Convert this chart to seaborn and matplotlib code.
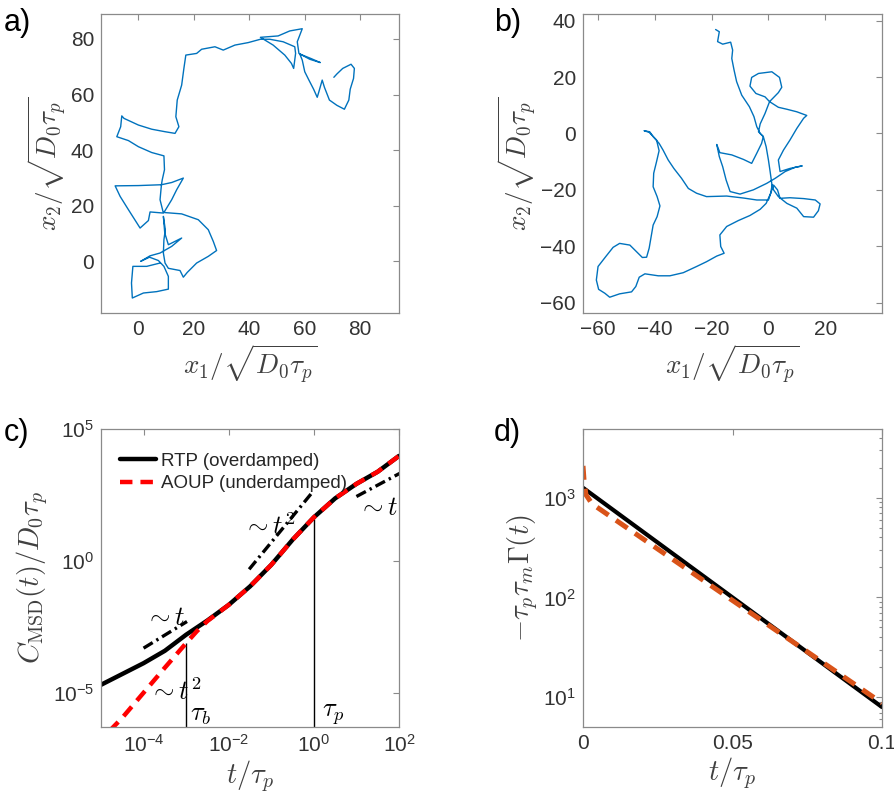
import matplotlib
matplotlib.use("Agg")
import matplotlib.pyplot as plt
import matplotlib.ticker as ticker
import numpy as np
import seaborn as sns

# ---------------- data ----------------
# a) trajectory waypoints
traj_a_x = [70.5, 71.6, 73.7, 76.7, 77.9, 77.6, 76.4, 75.9, 74.3, 71.6,
            68.9, 67.1, 66.3, 65.1, 64.5, 63.2, 61.5, 60.0, 59.1, 58.2,
            62.4, 65.6, 61.8, 57.9, 57.3, 59.1, 54.6, 50.4, 44.0, 48.6,
            52.8, 55.2, 56.0, 56.7, 56.4, 52.2, 47.4, 44.0, 39.6, 34.8,
            30.6, 27.6, 22.8, 21.0, 17.1, 16.4, 15.6, 14.0, 13.5, 14.6,
            13.2, 9.6, 4.8, 0.0, -5.2, -6.0, -6.4, -7.8, -3.6, 0.0,
            4.8, 9.2, 9.4, 8.6, 8.3, 0.0, -8.4, -6.6, -3.6, 0.6,
            3.6, 4.2, 9.0, 7.8, 8.3, 12.0, 16.2, 13.8, 12.0, 9.2,
            15.6, 21.6, 25.2, 27.0, 28.2, 25.2, 21.0, 17.6, 16.2, 15.0,
            10.8, 9.6, 9.0, 9.2, 9.7, 9.0, 9.5, 10.8, 15.6, 12.0,
            7.8, 4.2, 0.8, 4.0, 7.2, 9.2, 10.8, 10.8, 6.6, 1.8,
            -2.2, -2.5, -2.0, 3.0, 7.8]
traj_a_y = [66.2, 67.4, 69.4, 70.9, 69.4, 65.8, 61.9, 58.0, 54.7, 56.1,
            58.0, 62.6, 65.2, 61.0, 59.0, 61.9, 65.2, 68.2, 72.4, 74.6,
            72.9, 71.5, 72.7, 74.8, 79.0, 83.7, 82.9, 81.1, 80.6, 77.8,
            74.2, 71.2, 69.4, 74.8, 77.2, 79.0, 79.9, 79.9, 78.7, 77.8,
            76.0, 77.2, 76.3, 74.8, 74.2, 69.4, 63.4, 58.0, 52.0, 48.4,
            46.0, 46.6, 47.5, 49.0, 51.4, 52.3, 48.4, 44.8, 43.4, 41.2,
            39.1, 37.9, 32.9, 29.3, 27.5, 27.2, 27.1, 23.3, 18.5, 11.9,
            14.6, 17.7, 17.3, 22.1, 27.5, 28.3, 29.9, 25.7, 22.1, 17.5,
            17.0, 14.9, 11.3, 7.1, 3.8, 1.7, -0.7, -4.1, -5.8, -3.4,
            -2.6, -0.7, 2.9, 7.7, 11.3, 16.1, 10.1, 5.9, 8.3, 5.3,
            2.9, 1.9, -0.1, 1.4, 0.2, -1.9, -5.5, -10.1, -11.0, -11.5,
            -13.3, -7.9, -1.9, -1.9, -0.7]

# b) trajectory waypoints
traj_b_x = [-18.6, -17.3, -17.9, -16.1, -13.3, -12.6, -12.9, -12.1, -11.2, -9.4,
            -6.7, -5.1, -4.1, -2.9, -1.8, -2.4, -4.1, -5.9, -8.8, -12.9,
            -17.1, -17.9, -18.2, -17.3, -16.1, -14.9, -13.5, -10.0, -5.3, -0.6,
            2.4, 5.9, 9.4, 11.9, 7.6, 4.1, 3.5, 5.3, 7.6, 10.0,
            12.4, 13.5, 10.0, 6.5, 3.5, 0.4, 3.5, 4.7, 3.9, 1.2,
            -3.5, -5.9, -6.5, -4.4, -1.2, 0.4, -1.2, -2.9, -3.5, -1.8,
            -0.8, 0.0, 0.6, 1.2, 1.8, 3.5, 6.5, 10.0, 12.4, 15.9,
            17.6, 18.2, 16.5, 12.4, 7.6, 4.1, 3.2, 1.8, 0.0, -4.1,
            -8.8, -14.7, -21.8, -25.3, -28.2, -30.6, -33.3, -35.3, -37.1, -38.5,
            -40.6, -41.8, -43.8, -42.0, -39.4, -38.5, -39.4, -40.4, -40.6, -39.2,
            -38.2, -39.2, -40.6, -41.3, -42.0, -42.9, -44.4, -46.5, -48.8, -52.4,
            -54.7, -57.3, -60.0, -60.6, -59.8, -57.6, -55.9, -52.4, -48.2, -46.7,
            -45.5, -43.5, -38.8, -34.7, -30.0, -25.3, -21.8, -18.2, -15.6, -16.8,
            -17.1, -14.7, -10.6, -6.5, -2.9, -0.8, 0.8, 1.3]
traj_b_y = [36.9, 36.1, 32.6, 31.7, 32.4, 29.6, 26.6, 22.5, 18.4, 13.6,
            9.5, 6.0, 2.4, 0.0, -1.1, -3.5, -7.0, -10.6, -9.2, -7.6,
            -6.8, -4.7, -3.9, -8.2, -11.8, -16.5, -20.6, -21.5, -20.0, -17.7,
            -15.9, -13.5, -12.0, -11.5, -12.4, -13.5, -9.4, -5.9, -2.3, 1.8,
            5.4, 6.4, 7.7, 8.6, 9.3, 11.3, 14.5, 16.4, 19.9, 21.9,
            21.3, 19.9, 16.8, 14.2, 13.0, 11.3, 7.1, 3.4, 0.6, -1.1,
            -4.7, -9.4, -13.5, -17.9, -20.0, -22.4, -24.8, -26.5, -29.5, -29.7,
            -27.4, -25.0, -23.6, -23.1, -22.8, -23.0, -20.0, -18.3, -23.6, -23.6,
            -22.9, -22.2, -22.4, -21.2, -19.5, -15.9, -12.4, -9.4, -5.9, -3.5,
            -1.1, 0.6, 1.0, 0.4, -2.3, -6.1, -10.0, -14.1, -18.9, -22.4,
            -25.7, -29.5, -32.5, -36.6, -40.7, -43.9, -44.0, -41.9, -39.6, -39.0,
            -40.4, -43.7, -47.2, -52.0, -55.3, -56.7, -58.1, -56.9, -56.2, -54.3,
            -51.0, -49.8, -50.5, -50.5, -49.4, -47.2, -45.5, -43.5, -42.5, -40.1,
            -36.0, -33.0, -30.9, -29.1, -26.9, -24.8, -21.2, -18.3]

# c) MSD curves, log10 values
logt_rtp = [-5.0, -4.5, -4.0, -3.5, -3.0, -2.5, -2.0, -1.5, -1.0, -0.5,
            0.0, 0.5, 1.0, 1.5, 2.0]
logc_rtp = [-4.70, -4.29, -3.88, -3.41, -2.80, -2.26, -1.67, -0.97, -0.15, 0.80,
            1.65, 2.37, 2.92, 3.38, 3.98]
logt_aoup = [-4.8, -4.5, -4.0, -3.5, -3.0, -2.75, -2.5, -2.0, -1.5, -1.0,
             -0.5, 0.0, 0.5, 1.0, 1.5, 2.0]
logc_aoup = [-6.45, -5.95, -5.00, -4.05, -3.12, -2.67, -2.28, -1.67, -0.97, -0.15,
             0.80, 1.65, 2.37, 2.92, 3.38, 3.98]
guide_t_left = ([-4.0, -2.98], [-3.31, -2.30])
guide_t2_mid = ([-1.52, -0.02], [-0.32, 2.63])
guide_t_right = ([1.0, 2.02], [2.44, 3.32])
tau_b, tau_b_top = 1e-3, 10 ** -3.1
tau_p, tau_p_top = 1.0, 10 ** 1.6

# d) memory kernel
t_d_rtp = [0.0, 0.025, 0.05, 0.075, 0.1]
logg_rtp = [3.10, 2.55, 2.00, 1.45, 0.90]
t_d_aoup = [0.0, 0.0004, 0.001, 0.003, 0.05, 0.1]
logg_aoup = [3.32, 3.15, 3.03, 2.94, 1.97, 0.94]

# ---------------- style ----------------
sns.set_theme(style="white")
plt.rcParams["font.family"] = ["Liberation Sans", "DejaVu Sans"]
plt.rcParams["mathtext.fontset"] = "cm"

BLUE = "#0072BD"
ORANGE = "#D95319"
EDGE = "#8a8a8a"
TXT = "#333333"
LAB = "#404040"
DASHDOT = (0, (3.2, 1.3, 0.7, 1.3))

fig = plt.figure(figsize=(8.95, 8.07), dpi=100)
W, H = 895.0, 807.0


def make_ax(left, top, right, bottom):
    return fig.add_axes([left / W, 1 - bottom / H, (right - left) / W, (bottom - top) / H])


ax_a = make_ax(101, 14, 399, 313)
ax_b = make_ax(583, 14, 882, 313)
ax_c = make_ax(101, 429, 399, 727)
ax_d = make_ax(583, 429, 882, 727)


def style(ax):
    for s in ax.spines.values():
        s.set_color(EDGE)
        s.set_linewidth(0.9)
    ax.tick_params(which="both", direction="in", top=True, right=True,
                   color=EDGE, labelcolor=TXT, labelsize=15, width=0.8, pad=5)
    ax.tick_params(which="major", length=4)
    ax.tick_params(which="minor", length=2.2)
    ax.grid(False)


# a)
sns.lineplot(x=traj_a_x, y=traj_a_y, sort=False, estimator=None, ax=ax_a,
             color=BLUE, linewidth=1.0)
ax_a.set_xlim(-13.5, 94)
ax_a.set_ylim(-18.7, 89)
ax_a.set_xticks([0, 20, 40, 60, 80])
ax_a.set_yticks([0, 20, 40, 60, 80])

# b)
sns.lineplot(x=traj_b_x, y=traj_b_y, sort=False, estimator=None, ax=ax_b,
             color=BLUE, linewidth=1.0)
ax_b.set_xlim(-65.3, 40)
ax_b.set_ylim(-63.7, 42.4)
ax_b.set_xticks([-60, -40, -20, 0, 20])
ax_b.set_yticks([-60, -40, -20, 0, 20, 40])

for ax in (ax_a, ax_b):
    ax.set_xlabel(r"$x_1/\sqrt{D_0\tau_p}$", fontsize=19.5, color=LAB, labelpad=2)
    ax.set_ylabel(r"$x_2/\sqrt{D_0\tau_p}$", fontsize=19.5, color=LAB, labelpad=2)
    style(ax)

# c)
ax_c.set_xscale("log")
ax_c.set_yscale("log")
ax_c.vlines([tau_b, tau_p], 10 ** -6.3, [tau_b_top, tau_p_top], color="black", linewidth=1.0)
sns.lineplot(x=10 ** np.array(logt_rtp), y=10 ** np.array(logc_rtp), ax=ax_c,
             color="black", linewidth=3.2, label="RTP (overdamped)")
sns.lineplot(x=10 ** np.array(logt_aoup), y=10 ** np.array(logc_aoup), ax=ax_c,
             color="#ff0000", linewidth=3.2, linestyle=(0, (2.8, 1.8)),
             label="AOUP (underdamped)")
for gx, gy in (guide_t_left, guide_t2_mid, guide_t_right):
    ax_c.plot(10 ** np.array(gx), 10 ** np.array(gy), color="black",
              linewidth=2.4, linestyle=DASHDOT)
txt_kw = dict(fontsize=19, color="black", ha="left", va="center")
ax_c.text(10 ** -3.96, 10 ** -2.15, r"$\sim t$", **txt_kw)
ax_c.text(10 ** -1.66, 10 ** 1.3, r"$\sim t^2$", **txt_kw)
ax_c.text(10 ** 1.04, 10 ** 2.0, r"$\sim t$", **txt_kw)
ax_c.text(10 ** -3.88, 10 ** -4.95, r"$\sim t^2$", **txt_kw)
ax_c.text(10 ** -2.92, 10 ** -5.83, r"$\tau_b$", **txt_kw)
ax_c.text(10 ** 0.2, 10 ** -5.83, r"$\tau_p$", **txt_kw)
ax_c.set_xlim(1e-5, 1e2)
ax_c.set_ylim(10 ** -6.3, 1e5)
ax_c.set_xticks([1e-4, 1e-2, 1e0, 1e2])
ax_c.xaxis.set_major_formatter(ticker.FixedFormatter(
    [r"$\mathregular{10^{-4}}$", r"$\mathregular{10^{-2}}$",
     r"$\mathregular{10^{0}}$", r"$\mathregular{10^{2}}$"]))
ax_c.set_yticks([1e-5, 1e0, 1e5])
ax_c.yaxis.set_major_formatter(ticker.FixedFormatter(
    [r"$\mathregular{10^{-5}}$", r"$\mathregular{10^{0}}$", r"$\mathregular{10^{5}}$"]))
ax_c.xaxis.set_minor_locator(ticker.NullLocator())
ax_c.yaxis.set_minor_locator(ticker.NullLocator())
ax_c.set_xlabel(r"$t/\tau_p$", fontsize=20.5, color=LAB, labelpad=2)
ax_c.set_ylabel(r"$C_{\mathrm{MSD}}(t)/D_0\tau_p$", fontsize=20.5, color=LAB, labelpad=2)
leg = ax_c.legend(loc="upper left", bbox_to_anchor=(0.02, 0.965), frameon=False,
                  fontsize=13.5, handlelength=1.9, handletextpad=0.3,
                  borderaxespad=0.3, labelspacing=0.3)
style(ax_c)

# d)
ax_d.set_yscale("log")
sns.lineplot(x=t_d_rtp, y=10 ** np.array(logg_rtp), ax=ax_d, color="black", linewidth=3.0)
sns.lineplot(x=t_d_aoup, y=10 ** np.array(logg_aoup), ax=ax_d, color=ORANGE,
             linewidth=3.6, linestyle=(0, (2.8, 1.8)))
ax_d.set_xlim(0, 0.1)
ax_d.set_ylim(10 ** 0.7, 10 ** 3.69)
ax_d.set_xticks([0, 0.05, 0.1])
ax_d.set_xticklabels(["0", "0.05", "0.1"])
ax_d.set_yticks([10, 100, 1000])
ax_d.yaxis.set_major_formatter(ticker.FixedFormatter(
    [r"$\mathregular{10^{1}}$", r"$\mathregular{10^{2}}$", r"$\mathregular{10^{3}}$"]))
ax_d.set_xlabel(r"$t/\tau_p$", fontsize=20.5, color=LAB, labelpad=2)
ax_d.set_ylabel(r"$-\tau_p\tau_m\Gamma(t)$", fontsize=20.5, color=LAB, labelpad=2)
style(ax_d)

# panel letters
for lab, x, y in (("a)", 4, 8), ("b)", 494, 8), ("c)", 4, 418), ("d)", 494, 418)):
    fig.text(x / W, 1 - y / H, lab, fontsize=22, color="black", ha="left", va="top")

fig.savefig("out.png", dpi=100)
